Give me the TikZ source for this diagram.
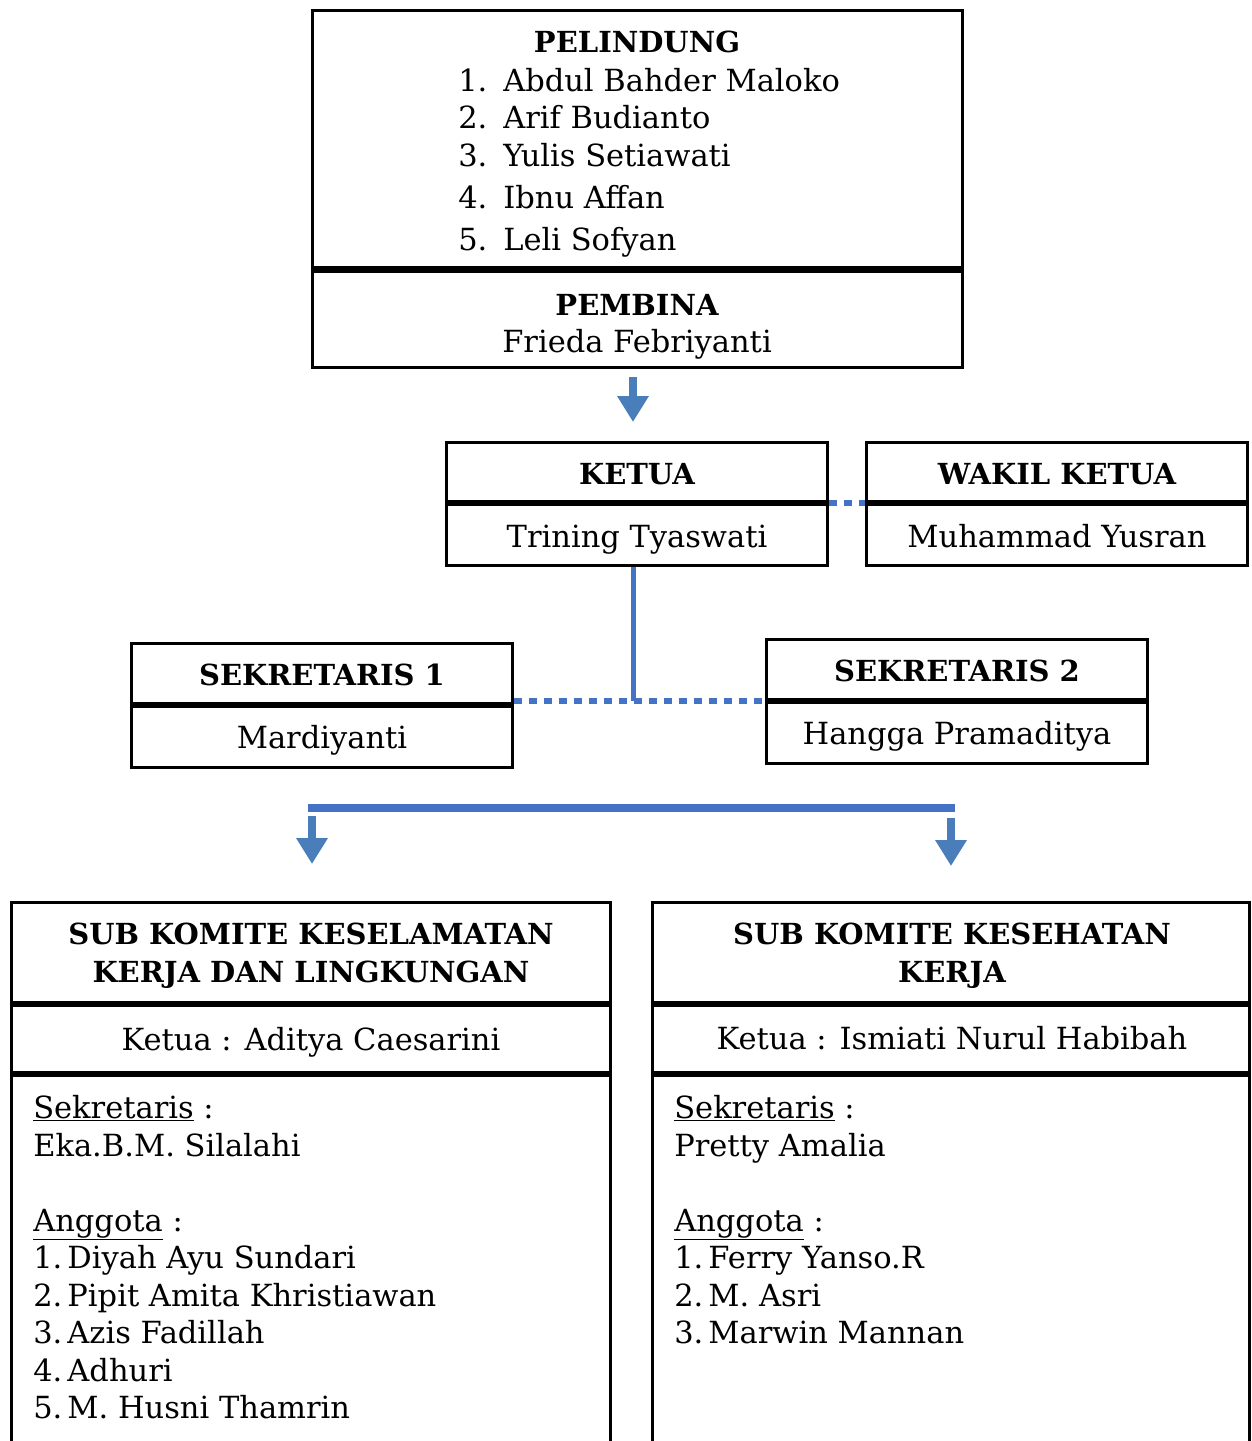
\documentclass[tikz,border=0pt]{standalone}
\usepackage{fontspec}
\setmainfont{DejaVu Serif}
\usetikzlibrary{positioning,arrows.meta}
\definecolor{arrowblue}{HTML}{4A7EBB}
\definecolor{lineblue}{HTML}{4472C4}

\begin{document}
\begin{tikzpicture}[x=1pt, y=-1pt, semithick,
               font=\fontsize{30.5}{37.5}\selectfont,
               box/.style ={draw, line width=3.5pt, inner sep=0pt, minimum width=381pt},
               txt/.style ={inner sep=0pt, anchor=base},
               head/.style ={txt, font=\fontsize{29}{37.5}\selectfont\bfseries},
               blok/.style ={arrowblue, line width=8pt, -{Triangle[width=30pt,length=26pt]}},
               garis/.style ={lineblue, line width=5pt},
               titik/.style ={lineblue, line width=6pt, dash pattern=on 8pt off 7pt}]

           \useasboundingbox (0,0) rectangle (1251,1441);

           %\node [estilo] (nombre) at (x,y) {};

           % pelindung / pembina
           \node[box, minimum width=650pt, minimum height=257.5pt] (pel) at (637.5,139.25) {};
           \node[box, minimum width=650pt, minimum height=96.5pt] (pem) at (637.5,319.25) {};
           \node[head] (pelT) at (637,52) {PELINDUNG};
           \node[inner sep=0pt, anchor=north west, align=left] (pelL) at (458,64.75)
               {\strut\makebox[45pt][l]{1.}Abdul Bahder Maloko\\
                \makebox[45pt][l]{2.}Arif Budianto\\
                \makebox[45pt][l]{3.}Yulis Setiawati\\[4.5pt]
                \makebox[45pt][l]{4.}Ibnu Affan\\[4.5pt]
                \makebox[45pt][l]{5.}Leli Sofyan};
           \node[head] (pemT) at (637,315) {PEMBINA};
           \node[txt] (pemN) at (637,352) {Frieda Febriyanti};

           \coordinate (a1) at (633,377);
           \coordinate (a2) at (633,422);
           \draw[blok] (a1) -- (a2);

           % ketua / wakil
           \node[box, minimum height=59pt] (ketT) at (637,472) {};
           \node[box, minimum height=61pt] (ketN) at (637,535) {};
           \node[head] at (637,484.5) {KETUA};
           \node[txt] at (637,547.5) {Trining Tyaswati};

           \node[box, minimum height=59pt] (wakT) at (1057,472) {};
           \node[box, minimum height=61pt] (wakN) at (1057,535) {};
           \node[head] at (1057,484.5) {WAKIL KETUA};
           \node[txt] at (1057,547.5) {Muhammad Yusran};

           \draw[titik] (ketN.north east) -- (wakN.north west);

           % sekretaris
           \node[box, minimum height=60pt] (sek1T) at (322,673.5) {};
           \node[box, minimum height=61pt] (sek1N) at (322,737) {};
           \node[head] at (322,685.5) {SEKRETARIS 1};
           \node[txt] at (322,748.5) {Mardiyanti};

           \node[box, minimum height=60pt] (sek2T) at (957,669.5) {};
           \node[box, minimum height=61pt] (sek2N) at (957,733) {};
           \node[head] at (957,681.5) {SEKRETARIS 2};
           \node[txt] at (957,744.5) {Hangga Pramaditya};

           \coordinate (c1) at (633,701);
           \draw[garis] (ketN.south -| c1) -- (c1);
           \draw[titik] (c1 -| sek1T.east) -- (c1 -| sek2T.west);

           % cabang ke sub komite
           \coordinate (b1) at (308,808);
           \coordinate (b2) at (955,808);
           \draw[lineblue, line width=8pt] (b1) -- (b2);
           \coordinate (d1) at (312,816);
           \coordinate (d2) at (312,864);
           \coordinate (e1) at (951,818);
           \coordinate (e2) at (951,866);
           \draw[blok] (d1) -- (d2);
           \draw[blok] (e1) -- (e2);

           % sub komite kiri
           \node[box, minimum width=599pt, minimum height=100pt] (s1T) at (311,952.5) {};
           \node[box, minimum width=599pt, minimum height=67pt] (s1K) at (311,1039) {};
           \node[box, minimum width=599pt, minimum height=400pt] (s1A) at (311,1275.5) {};
           \node[head] at (311,944.5) {SUB KOMITE KESELAMATAN};
           \node[head] at (311,982.5) {KERJA DAN LINGKUNGAN};
           \node[txt] at (311,1050.5) {Ketua : Aditya Caesarini};
           \node[inner sep=0pt, anchor=north west, align=left] (s1L) at (33,1092.25)
               {\strut\underline{Sekretaris} :\\
                Eka.B.M. Silalahi\\
                \\
                \underline{Anggota} :\\
                1.\,Diyah Ayu Sundari\\
                2.\,Pipit Amita Khristiawan\\
                3.\,Azis Fadillah\\
                4.\,Adhuri\\
                5.\,M. Husni Thamrin};

           % sub komite kanan
           \node[box, minimum width=597pt, minimum height=100pt] (s2T) at (951,952.5) {};
           \node[box, minimum width=597pt, minimum height=67pt] (s2K) at (951,1039) {};
           \node[box, minimum width=597pt, minimum height=400pt] (s2A) at (951,1275.5) {};
           \node[head] at (952,944.5) {SUB KOMITE KESEHATAN};
           \node[head] at (952,982.5) {KERJA};
           \node[txt] at (952,1049.5) {Ketua : Ismiati Nurul Habibah};
           \node[inner sep=0pt, anchor=north west, align=left] (s2L) at (674,1092.25)
               {\strut\underline{Sekretaris} :\\
                Pretty Amalia\\
                \\
                \underline{Anggota} :\\
                1.\,Ferry Yanso.R\\
                2.\,M. Asri\\
                3.\,Marwin Mannan};

\end{tikzpicture}
\end{document}
